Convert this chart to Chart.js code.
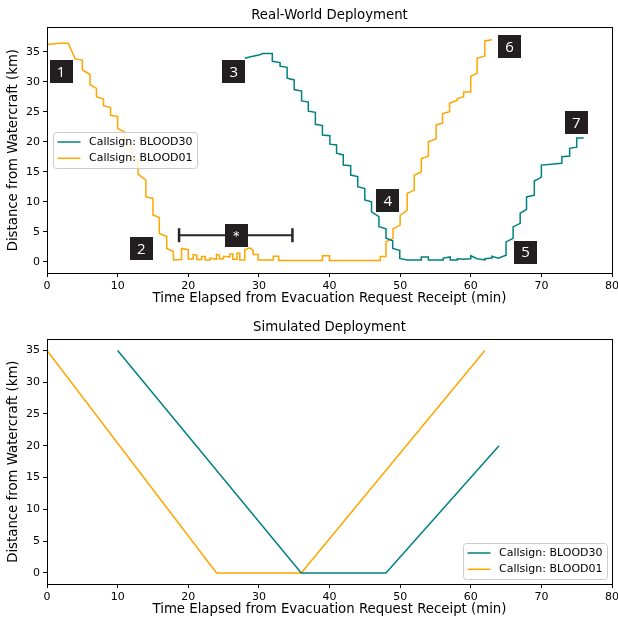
<!DOCTYPE html>
<html>
<head>
<meta charset="utf-8">
<script src="https://cdn.jsdelivr.net/npm/chart.js@4.4.1/dist/chart.umd.min.js"></script>
<style>
html, body { margin: 0; padding: 0; background: #fff; }
canvas { display: block; }
</style>
</head>
<body>
<canvas id="real" width="618" height="311"></canvas>
<canvas id="sim" width="618" height="311"></canvas>
<script>
"use strict";

// real-world tracks (minutes, km), corners of the step traces
var realT30 = [28.0, 29.0, 30.0, 30.6, 31.9, 31.9, 33.0, 33.0, 34.0, 34.0, 35.0, 35.0, 36.05, 36.05, 37.0, 37.0,
    38.0, 38.0, 39.0, 39.0, 40.05, 40.05, 41.0, 41.0, 41.95, 41.95, 43.0, 43.0, 44.0, 44.0, 45.0, 45.0,
    45.95, 45.95, 47.0, 47.0, 48.0, 48.0, 48.95, 48.95, 49.95, 49.95,
    51.0, 53.0, 53.0, 54.0, 54.0, 56.1, 56.1, 57.1, 57.1, 58.1, 58.1, 59.0, 60.0, 60.0, 60.9, 62.0,
    62.0, 63.0, 63.0, 63.9, 65.0, 65.0, 66.0, 66.0, 67.0, 67.0, 67.9, 67.9, 69.0, 69.0, 70.0, 70.0,
    72.9, 72.9, 74.0, 74.0, 75.0, 75.0, 76.0];
var realD30 = [33.9, 34.2, 34.45, 34.7, 34.7, 33.4, 33.2, 32.6, 32.4, 30.6, 30.3, 28.7, 28.45, 26.8, 26.6, 25.1,
    24.9, 22.9, 22.7, 21.1, 21.0, 19.6, 19.45, 18.1, 17.8, 16.1, 16.0, 14.45, 14.2, 12.5, 12.2, 10.3,
    10.0, 8.3, 7.5, 5.85, 5.5, 3.9, 3.5, 2.2, 1.9, 0.55,
    0.3, 0.3, 0.8, 0.8, 0.3, 0.3, 0.6, 0.8, 0.3, 0.3, 0.5, 0.4, 0.5, 1.0, 0.5, 0.3,
    0.5, 0.6, 0.9, 0.6, 1.1, 3.3, 3.9, 5.8, 6.4, 8.1, 8.7, 10.8, 11.1, 13.45, 14.1, 16.1,
    16.4, 17.5, 17.6, 18.9, 19.1, 20.6, 20.6];

var realT01 = [0, 1.8, 3.0, 4.0, 5.0, 5.0, 6.1, 6.1, 7.0, 7.0, 8.0, 8.0, 9.0, 9.0, 10.0, 10.0,
    11.0, 11.0, 12.0, 12.0, 12.9, 12.9, 14.0, 14.0, 15.0, 15.0, 15.9, 15.9, 16.95, 16.95, 17.9, 17.9,
    19.05, 19.05, 20.0, 20.0, 20.7, 20.7, 21.2, 21.2, 21.9, 21.9, 22.4, 22.4, 23.1, 23.1, 24.0, 24.0,
    24.4, 24.4, 25.0, 25.0, 25.9, 25.9, 26.3, 26.3, 26.9, 26.9, 27.3, 27.3, 28.0, 28.0, 28.7, 29.2,
    29.2, 29.9, 29.9, 32.05, 32.05, 32.8, 32.8, 39.0, 39.0, 40.0, 40.0, 47.2, 47.2,
    48.0, 48.0, 49.0, 49.0, 50.0, 50.0, 51.0, 51.0, 52.0, 52.0, 53.0, 53.0, 54.0, 54.0, 55.1, 55.1,
    56.0, 56.0, 57.0, 57.0, 58.1, 58.1, 59.0, 59.0, 60.0, 60.0, 60.9, 60.9, 62.0, 62.0, 63.0];
var realD01 = [36.2, 36.4, 36.4, 33.8, 33.6, 32.0, 31.2, 29.5, 28.9, 27.5, 27.1, 26.0, 25.7, 24.4, 24.2, 22.2,
    21.6, 19.6, 19.2, 17.3, 17.0, 14.6, 13.6, 10.8, 10.55, 7.8, 7.35, 4.7, 4.2, 2.2, 1.7, 0.3,
    0.35, 2.2, 2.0, 0.45, 0.45, 1.2, 1.1, 0.35, 0.35, 0.85, 0.85, 0.3, 0.3, 0.6, 0.4, 1.2,
    1.1, 0.5, 0.5, 0.9, 0.8, 1.3, 1.3, 0.4, 0.4, 1.4, 1.4, 0.3, 0.3, 2.0, 2.3, 1.9,
    1.2, 1.2, 0.3, 0.3, 0.9, 0.9, 0.2, 0.2, 1.0, 1.0, 0.2, 0.2, 0.85,
    0.85, 3.35, 3.9, 5.5, 6.1, 7.7, 8.6, 11.4, 11.9, 14.4, 15.0, 17.2, 17.6, 20.0, 20.5, 22.8,
    23.1, 24.7, 25.0, 26.4, 26.9, 27.2, 27.5, 28.3, 28.3, 30.9, 31.4, 33.9, 34.3, 36.8, 37.0];

// simulated tracks
var simT30 = [10, 36, 48, 64];
var simD30 = [35, 0, 0, 20];
var simT01 = [0, 24, 36, 62];
var simD01 = [35, 0, 0, 35];

var xTicks = [0, 10, 20, 30, 40, 50, 60, 70, 80];
var yTicks = [0, 5, 10, 15, 20, 25, 30, 35];

var seriesNames = ["Callsign: BLOOD30", "Callsign: BLOOD01"];
var seriesColors = ["#008080", "#ffa500"];

// numbered markers on the real-world panel (minutes, km)
var markT = [2.0, 13.35, 26.45, 48.25, 67.75, 65.5, 74.95];
var markD = [31.7, 2.2, 31.7, 10.2, 1.6, 35.9, 23.2];
var markText = ["1", "2", "3", "4", "5", "6", "7"];
// starred interval
var barT = [18.7, 34.75];
var barD = 4.4;
var starT = 26.8;

Chart.defaults.font.family = "'DejaVu Sans', sans-serif";
Chart.defaults.color = "#000";

var toPoints = function(ts, ds) {
    return ts.map(function(t, i) { return { x: t, y: ds[i] }; });
};

var drawLegend = function(chart, where) {
    var ctx = chart.ctx, a = chart.chartArea;
    var w = 144, h = 36;
    var x = where === "left" ? a.left + 5.5 : a.right - 5.5 - w;
    var y = where === "left" ? (a.top + a.bottom) / 2 - h / 2 : a.bottom - 5.5 - h;
    x = Math.round(x) + 0.5; y = Math.round(y) + 0.5;
    ctx.save();
    ctx.fillStyle = "rgba(255,255,255,0.8)";
    ctx.strokeStyle = "#cccccc";
    ctx.lineWidth = 1;
    ctx.beginPath();
    ctx.roundRect(x, y, w, h, 3);
    ctx.fill();
    ctx.stroke();
    chart.data.datasets.forEach(function(ds, i) {
        var ry = y + 9.5 + i * 16.3;
        ctx.strokeStyle = ds.borderColor;
        ctx.lineWidth = 1.5;
        ctx.beginPath();
        ctx.moveTo(x + 4, ry);
        ctx.lineTo(x + 27, ry);
        ctx.stroke();
        ctx.fillStyle = "#000";
        ctx.font = "11px 'DejaVu Sans'";
        ctx.textBaseline = "middle";
        ctx.textAlign = "left";
        ctx.fillText(ds.label, x + 35.5, ry);
    });
    ctx.restore();
};

var drawBox = function(ctx, cx, cy, text, font) {
    var s = 23;
    ctx.fillStyle = "#231f20";
    ctx.fillRect(Math.round(cx - s / 2), Math.round(cy - s / 2), s, s);
    ctx.fillStyle = "#fff";
    ctx.font = font;
    ctx.textAlign = "center";
    ctx.textBaseline = "middle";
    ctx.fillText(text, cx, cy + 1);
};

var drawMarks = function(chart) {
    var ctx = chart.ctx, xs = chart.scales.x, ys = chart.scales.y;
    ctx.save();
    var y0 = ys.getPixelForValue(barD);
    var xa = xs.getPixelForValue(barT[0]), xb = xs.getPixelForValue(barT[1]);
    ctx.strokeStyle = "#262626";
    ctx.lineWidth = 2;
    ctx.beginPath();
    ctx.moveTo(xa, y0); ctx.lineTo(xb, y0);
    ctx.stroke();
    ctx.lineWidth = 2.5;
    ctx.beginPath();
    ctx.moveTo(xa, y0 - 7); ctx.lineTo(xa, y0 + 7);
    ctx.moveTo(xb, y0 - 7); ctx.lineTo(xb, y0 + 7);
    ctx.stroke();
    drawBox(ctx, xs.getPixelForValue(starT), y0, "*", "13px 'DejaVu Sans'");
    markText.forEach(function(txt, i) {
        drawBox(ctx, xs.getPixelForValue(markT[i]), ys.getPixelForValue(markD[i]), txt, "15px 'Open Sans'");
    });
    ctx.restore();
};

// frame, legend, panel title and markers drawn matplotlib-style
var decoPlugin = {
    id: "deco",
    afterDatasetsDraw: function(chart, args, opts) {
        var a = chart.chartArea, ctx = chart.ctx;
        if (opts.marks) drawMarks(chart);
        drawLegend(chart, opts.legend);
        ctx.save();
        ctx.strokeStyle = "#000";
        ctx.lineWidth = 1;
        ctx.strokeRect(Math.round(a.left) + 0.5, Math.round(a.top) + 0.5,
            Math.round(a.right) - Math.round(a.left), Math.round(a.bottom) - Math.round(a.top));
        ctx.fillStyle = "#000";
        ctx.font = "13.3px 'DejaVu Sans'";
        ctx.textAlign = "center";
        ctx.textBaseline = "middle";
        ctx.fillText(opts.title, (a.left + a.right) / 2, opts.titleY);
        ctx.restore();
    }
};

var createChart = function(chartElement, padTop, yMin, yMax, data, deco) {
    return new Chart(chartElement, {
        type: "line",
        data: { datasets: data },
        options: {
            responsive: false,
            animation: false,
            events: [],
            layout: { padding: { left: 0, right: 6, top: padTop, bottom: 0 } },
            elements: { point: { radius: 0 }, line: { tension: 0, borderWidth: 1.5 } },
            plugins: {
                legend: { display: false },
                tooltip: { enabled: false },
                title: { display: false },
                deco: deco
            },
            scales: {
                x: {
                    type: "linear", min: 0, max: 80,
                    afterBuildTicks: function(s) { s.ticks = xTicks.map(function(v) { return { value: v }; }); },
                    afterFit: function(s) { s.height = 38; s.paddingLeft = 0; s.paddingRight = 0; },
                    ticks: { color: "#000", font: { size: 11 }, padding: 3, maxRotation: 0 },
                    grid: { drawOnChartArea: false, tickLength: 4, color: "#000" },
                    border: { display: false },
                    title: {
                        display: true, text: "Time Elapsed from Evacuation Request Receipt (min)",
                        color: "#000", font: { size: 13.3 }, padding: { top: 0, bottom: 4 }
                    }
                },
                y: {
                    type: "linear", min: yMin, max: yMax,
                    afterBuildTicks: function(s) { s.ticks = yTicks.map(function(v) { return { value: v }; }); },
                    afterFit: function(s) { s.width = 47; s.paddingTop = 0; s.paddingBottom = 0; },
                    ticks: { color: "#000", font: { size: 11 }, padding: 3 },
                    grid: { drawOnChartArea: false, tickLength: 4, color: "#000" },
                    border: { display: false },
                    title: {
                        display: true, text: "Distance from Watercraft (km)",
                        color: "#000", font: { size: 13.3 }, padding: { top: 6, bottom: 0 }
                    }
                }
            }
        },
        plugins: [decoPlugin]
    });
};

var makeSets = function(t30, d30, t01, d01) {
    return [
        { label: seriesNames[0], data: toPoints(t30, d30), borderColor: seriesColors[0], fill: false },
        { label: seriesNames[1], data: toPoints(t01, d01), borderColor: seriesColors[1], fill: false }
    ];
};

createChart(document.getElementById("real"), 27.3, -1.88, 39.07,
    makeSets(realT30, realD30, realT01, realD01),
    { legend: "left", marks: true, title: "Real-World Deployment", titleY: 16 });
createChart(document.getElementById("sim"), 28.3, -1.75, 36.75,
    makeSets(simT30, simD30, simT01, simD01),
    { legend: "lowerright", marks: false, title: "Simulated Deployment", titleY: 17 });
</script>
</body>
</html>
